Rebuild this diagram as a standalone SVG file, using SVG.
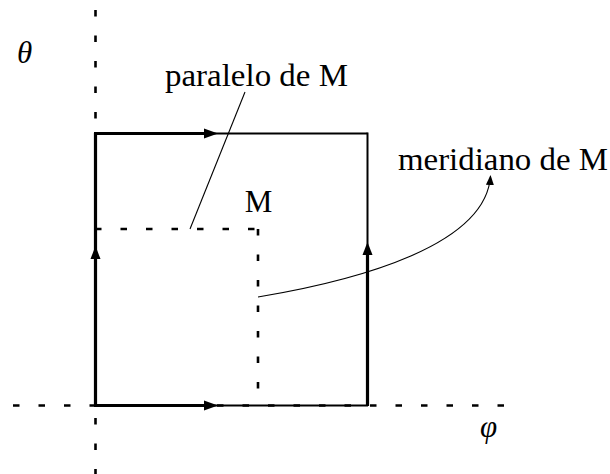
<svg xmlns="http://www.w3.org/2000/svg" width="610" height="474" viewBox="0 0 610 474">
<defs>
<style>
.txt{font-family:"Liberation Serif","Times New Roman",serif;font-size:31px;fill:#000}
.it{font-style:italic}
.dash{stroke:#000;stroke-width:2.6;stroke-dasharray:6.5 19;fill:none}
.thick{stroke:#000;stroke-width:3.2;fill:none}
.thin{stroke:#000;stroke-width:2;fill:none}
.lead{stroke:#000;stroke-width:1.1;fill:none}
.ah{fill:#000}
</style>
<marker id="sm" markerWidth="10" markerHeight="8" refX="9" refY="4" orient="auto" markerUnits="userSpaceOnUse">
<path d="M0,0 L10,4 L0,8 Z" fill="#000"/>
</marker>
</defs>
<rect width="610" height="474" fill="#fff"/>
<g id="axes">
<line class="dash" x1="95.5" y1="10" x2="95.5" y2="474"/>
<line class="dash" x1="13" y1="405.5" x2="508" y2="405.5"/>
<line class="dash" x1="95" y1="229" x2="258" y2="229"/>
<line class="dash" x1="258" y1="229" x2="258" y2="406"/>
</g>
<g id="frame">
<line class="thick" x1="95.5" y1="406" x2="95.5" y2="133"/>
<line class="thick" x1="94" y1="133.5" x2="208" y2="133.5"/>
<line class="thin" x1="208" y1="133.5" x2="367.5" y2="133.5"/>
<line class="thin" x1="367.5" y1="132.5" x2="367.5" y2="250"/>
<line class="thick" x1="367.5" y1="250" x2="367.5" y2="406"/>
<line class="thick" x1="94" y1="405.5" x2="208" y2="405.5"/>
<line class="thin" x1="208" y1="405.5" x2="368" y2="405.5"/>
<polygon class="ah" points="95.5,246 90.5,259 100.5,259"/>
<polygon class="ah" points="367.5,242 362.5,255 372.5,255"/>
<polygon class="ah" points="218,133.5 204,128.5 204,138.5"/>
<polygon class="ah" points="218,405.5 204,400.5 204,410.5"/>
</g>
<g id="connectors">
<line class="lead" x1="190" y1="229" x2="245" y2="92"/>
<path class="lead" d="M258,297 C360,280 486,245 490.5,176" marker-end="url(#sm)"/>
</g>
<g id="label-theta"><text class="txt it" x="17" y="63">θ</text></g>
<g id="label-phi"><text class="txt it" x="480" y="437">φ</text></g>
<g id="label-M"><text class="txt" x="258.5" y="212" text-anchor="middle">M</text></g>
<g id="label-paralelo"><text class="txt" x="165" y="86" textLength="183" lengthAdjust="spacingAndGlyphs">paralelo de M</text></g>
<g id="label-meridiano"><text class="txt" x="398" y="170" textLength="210" lengthAdjust="spacingAndGlyphs">meridiano de M</text></g>
</svg>
